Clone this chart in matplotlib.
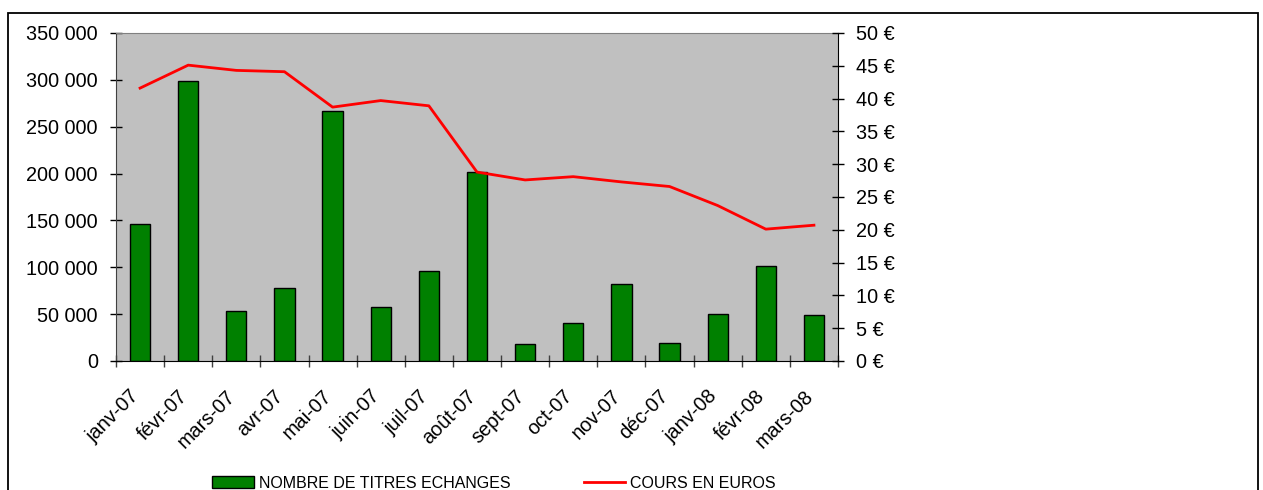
import matplotlib
matplotlib.use("Agg")
import matplotlib.pyplot as plt
from matplotlib.ticker import FuncFormatter, MultipleLocator, FixedLocator
from matplotlib.patches import Rectangle

months = ["janv-07", "févr-07", "mars-07", "avr-07", "mai-07", "juin-07", "juil-07",
          "août-07", "sept-07", "oct-07", "nov-07", "déc-07", "janv-08", "févr-08", "mars-08"]
volumes = [146000, 299000, 53000, 78000, 267000, 57500, 96000,
           201500, 18000, 40500, 82000, 19500, 50500, 101000, 49000]
prices = [41.6, 45.1, 44.3, 44.1, 38.7, 39.7, 38.9,
          28.8, 27.6, 28.1, 27.3, 26.6, 23.7, 20.1, 20.7]
label_vol = "NOMBRE DE TITRES ECHANGES"
label_price = "COURS EN EUROS"

plt.rcParams['font.family'] = ['Liberation Sans', 'DejaVu Sans']

W, H = 1263, 490
fig = plt.figure(figsize=(W / 100, H / 100), dpi=100)

x0, x1, ytop, ybot = 116, 838, 33, 361
ax = fig.add_axes([x0 / W, 1 - ybot / H, (x1 - x0) / W, (ybot - ytop) / H])
ax.set_facecolor("#C0C0C0")

xs = list(range(len(months)))
bars = ax.bar(xs, volumes, width=0.42, color="#008000", edgecolor="black", linewidth=1.0,
              label=label_vol, zorder=2)
ax.set_xlim(-0.5, len(months) - 0.5)
ax.set_ylim(0, 350000)
ax.yaxis.set_major_locator(MultipleLocator(50000))
ax.yaxis.set_major_formatter(FuncFormatter(lambda v, p: f"{int(v):,}".replace(",", " ")))

ax.xaxis.set_major_locator(FixedLocator([i - 0.5 for i in range(len(months) + 1)]))
ax.xaxis.set_major_formatter(FuncFormatter(lambda v, p: ""))
ax.xaxis.set_minor_locator(FixedLocator(xs))
ax.set_xticklabels(months, minor=True, rotation=45, ha="right", va="baseline",
                   rotation_mode="anchor", fontsize=14.3)
ax.tick_params(axis="x", which="minor", length=0, pad=26)
ax.tick_params(axis="x", which="major", direction="inout", length=8, width=1, color="#404040")
ax.tick_params(axis="y", direction="inout", length=8, width=1, labelsize=14.3, pad=9)

ax.spines["top"].set_color("#808080")
ax.spines["left"].set_color("#404040")
ax.spines["bottom"].set_color("black")
ax.spines["right"].set_visible(False)

ax2 = ax.twinx()
line, = ax2.plot(xs, prices, color="#FF0000", linewidth=2.0, label=label_price, zorder=3)
ax2.set_ylim(0, 50)
ax2.yaxis.set_major_locator(MultipleLocator(5))
ax2.yaxis.set_major_formatter(FuncFormatter(lambda v, p: f"{int(v)} €"))
ax2.tick_params(axis="y", direction="inout", length=8, width=1, labelsize=14.3, pad=9)
ax2.spines["right"].set_color("black")
ax2.spines["top"].set_visible(False)
ax2.spines["left"].set_visible(False)
ax2.spines["bottom"].set_visible(False)

fig.legend([bars, line], [label_vol, label_price], loc="center",
           bbox_to_anchor=(494 / W, 1 - 483 / H), ncol=2, frameon=False,
           fontsize=11.5, handlelength=2.6, handleheight=0.7, columnspacing=4.6,
           handletextpad=0.3)

fig.patches.append(Rectangle((8 / W, -0.05), (1258 - 8) / W, 1.05 - 13 / H,
                             transform=fig.transFigure, fill=False,
                             edgecolor="black", linewidth=1.3))

fig.savefig("out.png", dpi=100)
